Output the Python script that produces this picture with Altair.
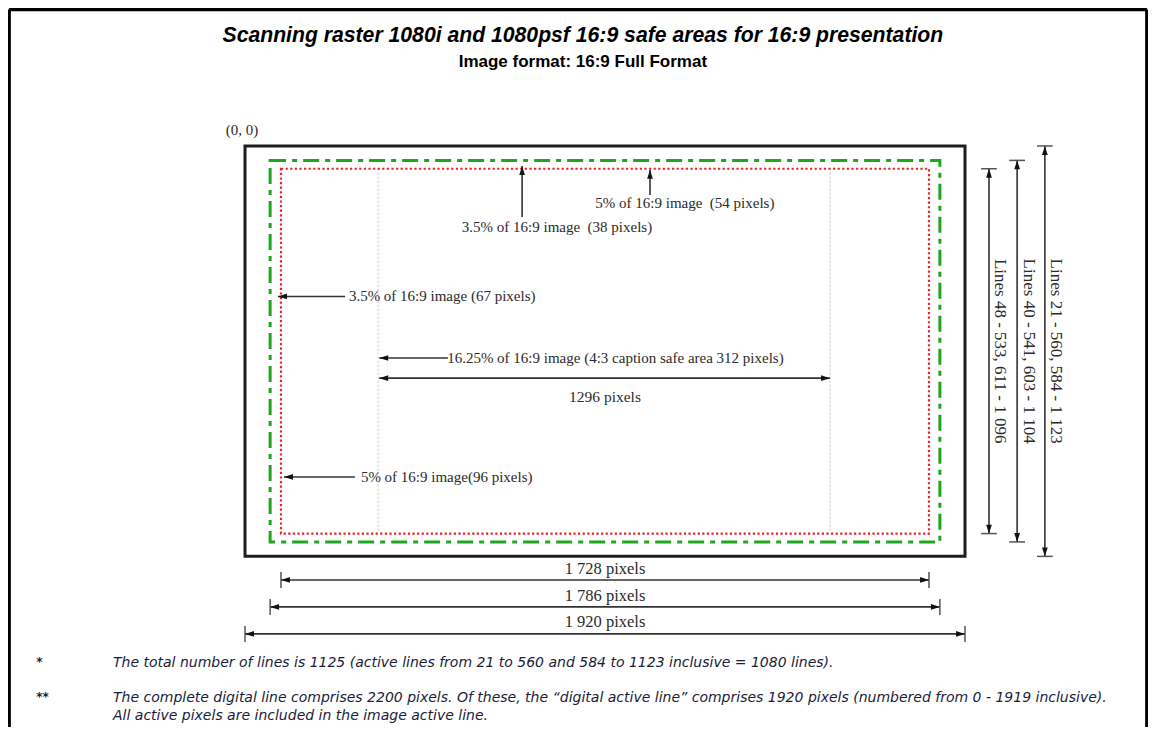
import altair as alt
import pandas as pd

# ---------------- data (diagram units = raster pixels / lines) ----------------
TITLE = "Scanning raster 1080i and 1080psf 16:9 safe areas for 16:9 presentation"
SUBTITLE = "Image format: 16:9 Full Format"
TITLE_POS = [901, -289]
SUBTITLE_POS = [901, -221]
ORIGIN_LABEL = "(0, 0)"
ORIGIN_POS = [-8, -42]

raster_x = [0, 1920]
raster_y = [0, 1080]
action_x = [67, 1853]      # 3.5 % safe area
action_y = [38, 1042]
titlesafe_x = [96, 1824]   # 5 % safe area
titlesafe_y = [60, 1020]
caption_x = [355, 1560]    # 4:3 caption safe area edges

# page frame
frame_x = [-629, 2405]
frame_y = [-359, 1529]

# single-headed leader arrows (tail -> head)
leader_x0 = [739, 1080, 267, 541, 293]
leader_y0 = [187, 129, 396, 558, 871]
leader_x1 = [739, 1080, 88, 358, 104]
leader_y1 = [53, 63, 396, 558, 871]
leader_angle = [0, 0, 270, 270, 270]

note_text = ["3.5% of 16:9 image \u00a0(38 pixels)", "5% of 16:9 image \u00a0(54 pixels)",
             "3.5% of 16:9 image (67 pixels)",
             "16.25% of 16:9 image (4:3 caption safe area 312 pixels)",
             "5% of 16:9 image(96 pixels)"]
note_x = [832, 1173, 277, 539, 309]
note_y = [213, 150, 396, 558, 871]
note_align = ["center", "center", "left", "left", "left"]

# 1296 pixel span
span_x = [358, 1560]
span_y = 611
span_label = "1296 pixels"
span_label_pos = [960, 660]

# vertical dimension lines (right)
dimv_x = [1984, 2059, 2133]
dimv_y0 = [60, 38, 0]
dimv_y1 = [1020, 1042, 1080]
dimv_labels = ["Lines 48 - 533, 611 - 1 096", "Lines 40 - 541, 603 - 1 104",
               "Lines 21 - 560, 584 - 1 123"]
dimv_label_x = [2014, 2090, 2163]
dimv_label_y = [540, 540, 540]

# horizontal dimension lines (bottom)
dimh_y = [1142, 1213, 1284]
dimh_x0 = [96, 67, 0]
dimh_x1 = [1824, 1853, 1920]
dimh_labels = ["1 728 pixels", "1 786 pixels", "1 920 pixels"]
dimh_label_y = [1112, 1183, 1254]

CAP = 21

# footnotes
foot_marks = ["*", "**"]
foot_mark_y = [1357, 1449]
foot_mark_x = -557
foot_lines = [
    "The total number of lines is 1125 (active lines from 21 to 560 and 584 to 1123 inclusive = 1080 lines).",
    "The complete digital line comprises 2200 pixels. Of these, the \u201cdigital active line\u201d comprises 1920 pixels (numbered from 0 - 1919 inclusive).",
    "All active pixels are included in the image active line.",
]
foot_x = -352
foot_y = [1360, 1453, 1499]

# ---------------- scales ----------------
W, H = 1140, 719
xs = alt.Scale(domain=[-632, 2408], nice=False, zero=False)
ys = alt.Scale(domain=[-363, 1529], nice=False, zero=False, reverse=True)


def X(f="x"):
    return alt.X(f"{f}:Q", scale=xs, axis=None)


def Y(f="y"):
    return alt.Y(f"{f}:Q", scale=ys, axis=None)


def X2(f="x2"):
    return alt.X2(f"{f}:Q")


def Y2(f="y2"):
    return alt.Y2(f"{f}:Q")


SERIF = "Liberation Serif"
TXT = "#2b2b2b"
LINE = "#333333"

# ---------------- tables ----------------
frame_df = pd.DataFrame([
    dict(x=frame_x[0], x2=frame_x[0], y=frame_y[0], y2=frame_y[1]),
    dict(x=frame_x[1], x2=frame_x[1], y=frame_y[0], y2=frame_y[1]),
    dict(x=frame_x[0], x2=frame_x[1], y=frame_y[0], y2=frame_y[0]),
])

def rect_df(xr, yr):
    return pd.DataFrame([dict(x=xr[0], x2=xr[1], y=yr[0], y2=yr[1])])

caption_df = pd.DataFrame([dict(x=cx, x2=cx, y=titlesafe_y[0], y2=titlesafe_y[1]) for cx in caption_x])

shafts = []
heads = []
caps = []
for i in range(len(leader_x0)):
    shafts.append(dict(x=leader_x0[i], y=leader_y0[i], x2=leader_x1[i], y2=leader_y1[i]))
    heads.append(dict(x=leader_x1[i], y=leader_y1[i], angle=leader_angle[i]))
shafts.append(dict(x=span_x[0], y=span_y, x2=span_x[1], y2=span_y))
heads.append(dict(x=span_x[0], y=span_y, angle=270))
heads.append(dict(x=span_x[1], y=span_y, angle=90))
for i in range(len(dimv_x)):
    shafts.append(dict(x=dimv_x[i], y=dimv_y0[i], x2=dimv_x[i], y2=dimv_y1[i]))
    heads.append(dict(x=dimv_x[i], y=dimv_y0[i], angle=0))
    heads.append(dict(x=dimv_x[i], y=dimv_y1[i], angle=180))
    for yy in (dimv_y0[i], dimv_y1[i]):
        caps.append(dict(x=dimv_x[i] - CAP, x2=dimv_x[i] + CAP, y=yy, y2=yy))
for i in range(len(dimh_y)):
    shafts.append(dict(x=dimh_x0[i], y=dimh_y[i], x2=dimh_x1[i], y2=dimh_y[i]))
    heads.append(dict(x=dimh_x0[i], y=dimh_y[i], angle=270))
    heads.append(dict(x=dimh_x1[i], y=dimh_y[i], angle=90))
    for xx in (dimh_x0[i], dimh_x1[i]):
        caps.append(dict(x=xx, x2=xx, y=dimh_y[i] - CAP, y2=dimh_y[i] + CAP))
shaft_df = pd.DataFrame(shafts)
head_df = pd.DataFrame(heads)
cap_df = pd.DataFrame(caps)

notes_df = pd.DataFrame(dict(x=note_x, y=note_y, text=note_text, align=note_align))
span_df = pd.DataFrame([dict(x=span_label_pos[0], y=span_label_pos[1], text=span_label)])
dimv_df = pd.DataFrame(dict(x=dimv_label_x, y=dimv_label_y, text=dimv_labels))
dimh_df = pd.DataFrame(dict(x=[(a + b) / 2 for a, b in zip(dimh_x0, dimh_x1)], y=dimh_label_y, text=dimh_labels))
origin_df = pd.DataFrame([dict(x=ORIGIN_POS[0], y=ORIGIN_POS[1], text=ORIGIN_LABEL)])
title_df = pd.DataFrame([dict(x=TITLE_POS[0], y=TITLE_POS[1], text=TITLE)])
subtitle_df = pd.DataFrame([dict(x=SUBTITLE_POS[0], y=SUBTITLE_POS[1], text=SUBTITLE)])
fmark_df = pd.DataFrame(dict(x=[foot_mark_x] * 2, y=foot_mark_y, text=foot_marks))
foot_df = pd.DataFrame(dict(x=[foot_x] * 3, y=foot_y, text=foot_lines))

ARROW = "M0,0L0.32,1L-0.32,1Z"

# ---------------- layers ----------------
layers = []
layers.append(alt.Chart(frame_df).mark_rule(color="#000000", strokeWidth=3.5)
              .encode(x=X(), y=Y(), x2=X2(), y2=Y2()))
layers.append(alt.Chart(rect_df(raster_x, raster_y))
              .mark_rect(fill="transparent", stroke="#1e1e1e", strokeWidth=3)
              .encode(x=X(), y=Y(), x2=X2(), y2=Y2()))
layers.append(alt.Chart(caption_df).mark_rule(color="#c4c4c4", strokeWidth=1, strokeDash=[2, 2])
              .encode(x=X(), y=Y(), x2=X2(), y2=Y2()))
layers.append(alt.Chart(rect_df(action_x, action_y))
              .mark_rect(fill="transparent", stroke="#1fa51f", strokeWidth=3, strokeDash=[16, 6, 5, 6])
              .encode(x=X(), y=Y(), x2=X2(), y2=Y2()))
layers.append(alt.Chart(rect_df(titlesafe_x, titlesafe_y))
              .mark_rect(fill="transparent", stroke="#e8232b", strokeWidth=2.2, strokeDash=[2.2, 2.4])
              .encode(x=X(), y=Y(), x2=X2(), y2=Y2()))
layers.append(alt.Chart(shaft_df).mark_rule(color=LINE, strokeWidth=1.6)
              .encode(x=X(), y=Y(), x2=X2(), y2=Y2()))
layers.append(alt.Chart(cap_df).mark_rule(color="#555555", strokeWidth=1.5)
              .encode(x=X(), y=Y(), x2=X2(), y2=Y2()))
layers.append(alt.Chart(head_df).mark_point(shape=ARROW, filled=True, size=320, color="#111111", opacity=1, strokeWidth=0)
              .encode(x=X(), y=Y(), angle=alt.Angle("angle:Q", scale=None)))

for al in ("center", "left"):
    layers.append(alt.Chart(notes_df).transform_filter(alt.datum.align == al)
                  .mark_text(font=SERIF, fontSize=15, color=TXT, align=al, baseline="middle")
                  .encode(x=X(), y=Y(), text="text:N"))
layers.append(alt.Chart(span_df).mark_text(font=SERIF, fontSize=15.5, color=TXT, align="center", baseline="middle")
              .encode(x=X(), y=Y(), text="text:N"))
layers.append(alt.Chart(dimh_df).mark_text(font=SERIF, fontSize=16.5, color=TXT, align="center", baseline="middle")
              .encode(x=X(), y=Y(), text="text:N"))
layers.append(alt.Chart(dimv_df).mark_text(font=SERIF, fontSize=17, color=TXT, align="center", baseline="middle", angle=90)
              .encode(x=X(), y=Y(), text="text:N"))
layers.append(alt.Chart(origin_df).mark_text(font=SERIF, fontSize=15, color=TXT, align="center", baseline="middle")
              .encode(x=X(), y=Y(), text="text:N"))
layers.append(alt.Chart(title_df).mark_text(font="Liberation Sans", fontSize=21.2, fontWeight="bold", fontStyle="italic",
                                            color="#000000", align="center", baseline="middle")
              .encode(x=X(), y=Y(), text="text:N"))
layers.append(alt.Chart(subtitle_df).mark_text(font="Liberation Sans", fontSize=17, fontWeight="bold",
                                               color="#000000", align="center", baseline="middle")
              .encode(x=X(), y=Y(), text="text:N"))
layers.append(alt.Chart(fmark_df).mark_text(font="DejaVu Sans", fontSize=12, fontWeight="bold", color="#1b1b3a",
                                            align="left", baseline="middle")
              .encode(x=X(), y=Y(), text="text:N"))
layers.append(alt.Chart(foot_df).mark_text(font="DejaVu Sans", fontSize=14, fontStyle="italic", color="#1b1b3a",
                                           align="left", baseline="middle")
              .encode(x=X(), y=Y(), text="text:N"))

chart = (alt.layer(*layers)
         .properties(width=W, height=H, padding=0, autosize=alt.AutoSizeParams(type="none"))
         .configure_view(stroke=None)
         .configure(background="white"))

chart.save("out.html", embed_options={"renderer": "svg", "actions": False})
